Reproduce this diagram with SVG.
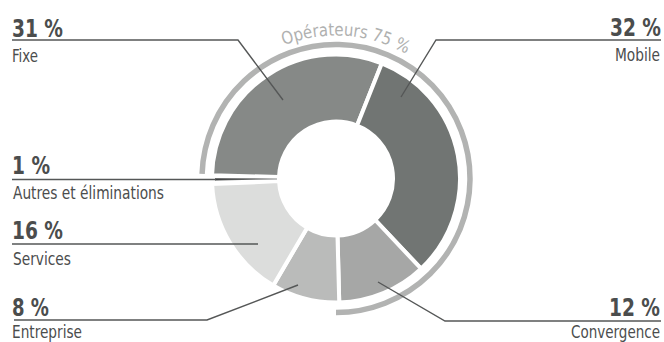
<svg xmlns="http://www.w3.org/2000/svg" width="664" height="342" viewBox="0 0 664 342">
  <style>
    .pct { font-family: "Liberation Sans Narrow", "DejaVu Sans Condensed", "Liberation Sans", sans-serif; font-stretch: condensed; font-weight: bold; font-size: 25px; fill: #4b4d4d; }
    .lbl { font-family: "Liberation Sans Narrow", "DejaVu Sans Condensed", "Liberation Sans", sans-serif; font-stretch: condensed; font-size: 17px; fill: #4b4d4d; }
    .ring-txt { font-family: "Liberation Sans Narrow", "DejaVu Sans Condensed", "Liberation Sans", sans-serif; font-stretch: condensed; font-size: 17.5px; fill: #b0b1b0; }
    .slice { stroke: #ffffff; stroke-width: 4; }
    .leader { fill: none; stroke: #555757; stroke-width: 1.4; }
  </style>
  <defs>
    <path id="ringTextPath" d="M193,178.5 A143,143 0 0 1 479,178.5"/>
    <linearGradient id="autresFade" x1="215" y1="0" x2="277" y2="0" gradientUnits="userSpaceOnUse">
      <stop offset="0" stop-color="#3c3e3e"/>
      <stop offset="1" stop-color="#8a8c8c"/>
    </linearGradient>
  </defs>

  <rect width="664" height="342" fill="#ffffff"/>

  <!-- operators ring (75 %) -->
  <g id="operateurs">
    <path d="M202.08,173.82 A134,134 0 1 1 336,312.5" fill="none" stroke="#b2b3b2" stroke-width="5.5"/>
    <text class="ring-txt" text-anchor="middle"><textPath href="#ringTextPath" startOffset="234.6" textLength="127" lengthAdjust="spacingAndGlyphs">Opérateurs 75 %</textPath></text>
  </g>

  <!-- donut slices -->
  <g id="fixe">
    <path class="slice" fill="#868987" d="M212.04,175.25 A124,124 0 0 1 381.85,63.29 L357.08,125.54 A57,57 0 0 0 279.02,177.01 Z"/>
  </g>
  <g id="mobile">
    <path class="slice" fill="#717573" d="M381.85,63.29 A124,124 0 0 1 421.09,268.69 L375.12,219.96 A57,57 0 0 0 357.08,125.54 Z"/>
  </g>
  <g id="convergence">
    <path class="slice" fill="#a6a7a6" d="M421.09,268.69 A124,124 0 0 1 339.25,302.46 L337.49,235.48 A57,57 0 0 0 375.12,219.96 Z"/>
  </g>
  <g id="entreprise">
    <path class="slice" fill="#babbba" d="M339.25,302.46 A124,124 0 0 1 273.25,285.45 L307.16,227.66 A57,57 0 0 0 337.49,235.48 Z"/>
  </g>
  <g id="services">
    <path class="slice" fill="#dcdddc" d="M273.25,285.45 A124,124 0 0 1 212.13,184.12 L279.06,181.09 A57,57 0 0 0 307.16,227.66 Z"/>
  </g>
  <g id="autres">
    <path fill="url(#autresFade)" d="M215,180.4 L277,179.43 L277,178.4 L215,178.29 Z"/>
  </g>

  <!-- leader lines -->
  <g id="connectors">
    <polyline class="leader" points="12,40 238,40 283,100"/>
    <polyline class="leader" points="661,40 436,40 401,97"/>
    <polyline class="leader" points="12,179.5 216,179.5"/>
    <polyline class="leader" points="12,244 258,244"/>
    <polyline class="leader" points="14,320 207,320 298,285"/>
    <polyline class="leader" points="661,321 445,321 378,282"/>
  </g>

  <!-- labels (percent figures narrowed horizontally) -->
  <g id="label-fixe">
    <text class="pct" transform="translate(12,37) scale(0.85,1)" textLength="60" lengthAdjust="spacingAndGlyphs">31 %</text>
    <text class="lbl" x="12" y="62" textLength="26" lengthAdjust="spacingAndGlyphs">Fixe</text>
  </g>
  <g id="label-mobile">
    <text class="pct" transform="translate(610,36) scale(0.85,1)" textLength="60" lengthAdjust="spacingAndGlyphs">32 %</text>
    <text class="lbl" transform="translate(615,61) scale(0.9,1)" textLength="50" lengthAdjust="spacingAndGlyphs">Mobile</text>
  </g>
  <g id="label-autres">
    <text class="pct" transform="translate(12,174) scale(0.85,1)" textLength="44.7" lengthAdjust="spacingAndGlyphs">1 %</text>
    <text class="lbl" x="13" y="199" textLength="151" lengthAdjust="spacingAndGlyphs">Autres et éliminations</text>
  </g>
  <g id="label-services">
    <text class="pct" transform="translate(12,239) scale(0.85,1)" textLength="60" lengthAdjust="spacingAndGlyphs">16 %</text>
    <text class="lbl" x="13" y="265" textLength="58" lengthAdjust="spacingAndGlyphs">Services</text>
  </g>
  <g id="label-entreprise">
    <text class="pct" transform="translate(12,316) scale(0.85,1)" textLength="43.5" lengthAdjust="spacingAndGlyphs">8 %</text>
    <text class="lbl" x="12" y="338" textLength="70" lengthAdjust="spacingAndGlyphs">Entreprise</text>
  </g>
  <g id="label-convergence">
    <text class="pct" transform="translate(609,316) scale(0.85,1)" textLength="60" lengthAdjust="spacingAndGlyphs">12 %</text>
    <text class="lbl" transform="translate(571,338) scale(0.9,1)" textLength="98.9" lengthAdjust="spacingAndGlyphs">Convergence</text>
  </g>
</svg>
